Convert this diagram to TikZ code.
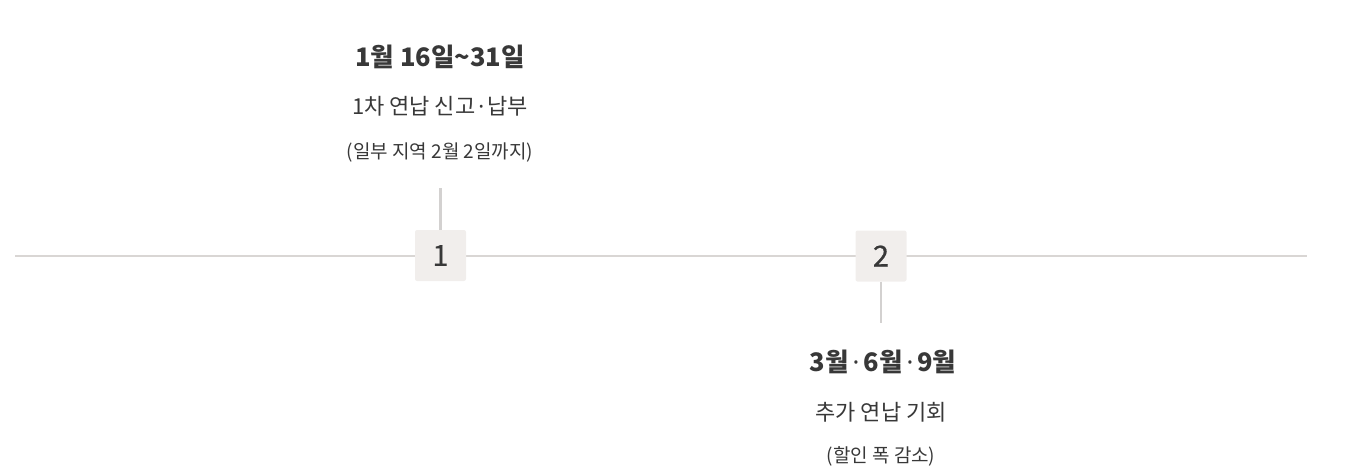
\documentclass[tikz,border=0pt]{standalone}
\usepackage{fontspec}
\setmainfont{Noto Sans CJK KR}
\newfontfamily\latfont{Noto Sans}
\usepackage{tikz}

\definecolor{txtgray}{HTML}{383838}
\definecolor{linegray}{HTML}{D9D6D4}
\definecolor{stemgray}{HTML}{D3D1D0}
\definecolor{boxgray}{HTML}{F1EEEC}
\newcommand{\mdot}[1][3pt]{\hspace{#1}{\latfont ·}\hspace{#1}}

\begin{document}
\begin{tikzpicture}
        [%%%%%%%%%%%%%%%%%%%%%%%%%%%%%%
        x=1pt, y=-1pt,
        stepbox/.style={rectangle, rounded corners=2pt, fill=boxgray, minimum size=51pt,
          inner sep=0pt, text=txtgray, font=\fontsize{29}{31}\selectfont\addfontfeatures{FakeBold=0.6}},
        axis/.style={draw=linegray, line width=1.6pt},
        stem/.style={draw=stemgray, line width=2.6pt},
        datetxt/.style={text=txtgray, font=\fontsize{25.5}{27}\selectfont\bfseries},
        desctxt/.style={text=txtgray, font=\fontsize{22}{24}\selectfont},
        notetxt/.style={text=txtgray, font=\fontsize{19}{21}\selectfont},
        ]%%%%%%%%%%%%%%%%%%%%%%%%%%%%%%
        \useasboundingbox (0,0) rectangle (1345,472);
        % Time line
        \coordinate (lineL) at (15,256);
        \coordinate (lineR) at (1307,256);
        \draw[axis] (lineL) -- (lineR);
        \node[stepbox] (b1) at (440.5,255.5) {1};
        \node[stepbox] (b2) at (881,256) {2};
        \coordinate (s1) at (440.5,188);
        \coordinate (s2) at (881,323);
        \draw[stem] (b1.north) -- (s1);
        \draw[stem] (b2.south) -- (s2);
        % Text 
        \node[datetxt] (d1) at (440,57) {1월 16일\textasciitilde 31일};
        \node[desctxt] (t1) at (440,106) {1차 연납 신고\mdot 납부};
        \node[notetxt] (n1) at (440,153) {(일부 지역 2월 2일까지)};
        \node[datetxt] (d2) at (883,362) {3월\mdot[4pt]6월\mdot[4pt]9월};
        \node[desctxt] (t2) at (881,412) {추가 연납 기회};
        \node[notetxt] (n2) at (881,456) {(할인 폭 감소)};
      \end{tikzpicture}
\end{document}
